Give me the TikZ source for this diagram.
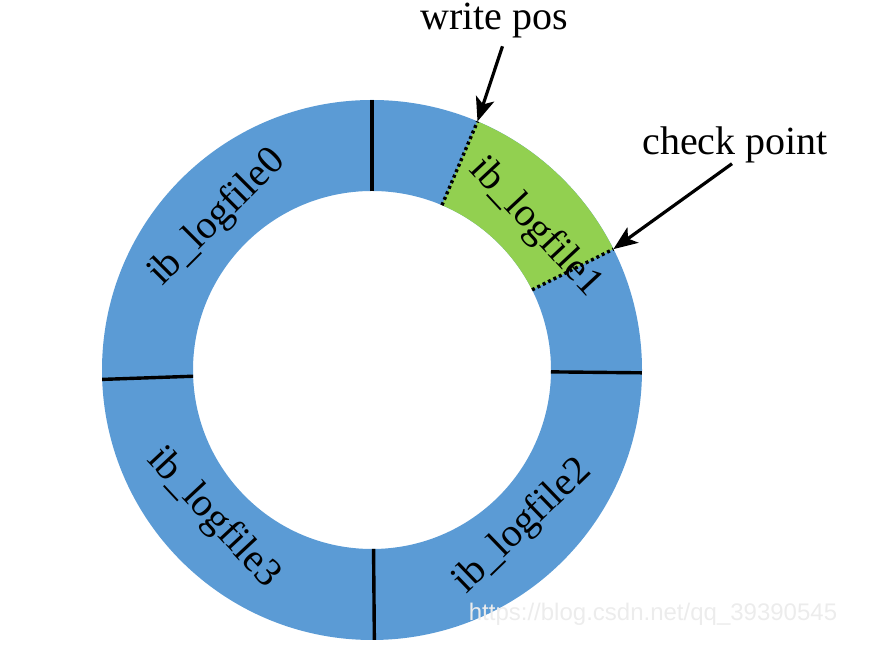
\documentclass[tikz,border=0pt]{standalone}
\usepackage{fontspec}
\setmainfont{Liberation Serif}
\newfontfamily\wmfont{Liberation Sans}
\usepackage{tikz}
\usetikzlibrary{arrows.meta}
\definecolor{logblue}{HTML}{5B9BD5}
\definecolor{loggreen}{HTML}{92D050}

\begin{document}
\begin{tikzpicture}[x=1pt,y=1pt,
  sepline/.style={line width=3.4pt},
  cutline/.style={line width=3.4pt,dash pattern=on 3pt off 3pt},
  lbl/.style={font=\fontsize{40}{48}\selectfont,inner sep=0pt},
  ringlbl/.style={font=\fontsize{40}{48}\selectfont,inner sep=0pt},
  ptr/.style={-{Stealth[length=24pt,width=19pt,inset=6pt]},line width=3.2pt}]
\useasboundingbox (0,0) rectangle (892,652);
% ring of log files
\begin{scope}[shift={(372,282)}]
\fill[logblue,even odd rule] (0,0) circle (270) (0,0) circle (179);
\fill[loggreen] (26.6:270) arc (26.6:67:270) -- (67:179) arc (67:26.6:179) -- cycle;
\foreach \a in {90,182,-0.6,270.5} {\draw[sepline] (\a:179)--(\a:270);}
\foreach \a/\rot/\n in {135.5/45/0,41/-47/1,-46/44/2,223/-47/3} {\node[ringlbl,rotate=\rot] (f\n) at (\a:217) {ib\_logfile\n};}
\coordinate (wpos) at (67:270);
\coordinate (wposin) at (67:179);
\coordinate (ckpt) at (26.6:270);
\coordinate (ckptin) at (26.6:179);
\end{scope}
\draw[cutline] (wposin)--(wpos);
\draw[cutline] (ckptin)--(ckpt);
% pointers
\node[lbl,anchor=base] (wp) at (494,622) {write pos};
\node[lbl,anchor=base] (cp) at (735,497) {check point};
\draw[ptr,shorten <=8pt] ([xshift=11pt]wp.south) -- (wpos);
\draw[ptr] ([xshift=-3pt]cp.south) -- (ckpt);
\node[font=\wmfont\fontsize{24}{28}\selectfont,text=white!85!gray,inner sep=0pt] (wm) at (653,38) {https://blog.csdn.net/qq\_39390545};
\end{tikzpicture}
\end{document}
